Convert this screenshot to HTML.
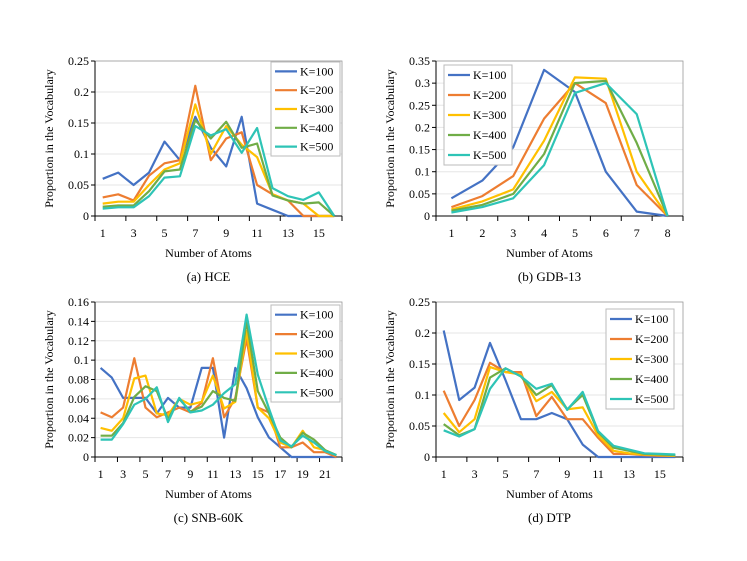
<!DOCTYPE html>
<html><head><meta charset="utf-8"><style>
body{margin:0;background:#fff;}
svg{display:block;}
svg text{font-family:"Liberation Serif","DejaVu Serif",serif;}
</style></head><body>
<svg id="c" width="747" height="561" viewBox="0 0 747 561"></svg>
<script>
const colors=["#4472C4","#ED7D31","#FFC000","#70AD47","#2EC4B6"];
const seriesNames=["K=100","K=200","K=300","K=400","K=500"];
const hceValues=[
[.06,.07,.05,.07,.12,.09,.16,.11,.08,.16,.02,.01,0,0,0,0],
[.03,.035,.025,.065,.085,.09,.21,.09,.125,.135,.05,.035,.025,0,0,0],
[.02,.023,.023,.05,.075,.085,.18,.10,.145,.115,.095,.035,.025,.02,0,0],
[.015,.017,.017,.04,.072,.075,.155,.125,.152,.11,.117,.033,.025,.02,.022,0],
[.012,.014,.014,.032,.062,.064,.145,.13,.14,.102,.142,.045,.032,.026,.038,0]];
const gdbValues=[
[.04,.08,.155,.33,.28,.10,.01,0],
[.02,.045,.09,.22,.30,.255,.07,0],
[.015,.033,.06,.17,.313,.31,.10,0],
[.012,.025,.05,.14,.30,.305,.165,0],
[.008,.02,.04,.115,.278,.30,.23,0]];
const snbValues=[
[.092,.082,.061,.061,.061,.045,.061,.051,.051,.092,.092,.02,.092,.071,.041,.02,.01,0,0,0,0,0],
[.046,.041,.051,.102,.051,.041,.046,.051,.046,.056,.102,.041,.061,.122,.051,.046,.01,.01,.015,.005,.005,0],
[.03,.027,.04,.081,.084,.045,.043,.06,.054,.057,.084,.05,.057,.13,.051,.04,.015,.01,.027,.01,.007,.002],
[.022,.022,.035,.062,.073,.068,.039,.06,.047,.052,.068,.061,.058,.14,.068,.045,.02,.01,.025,.018,.007,.002],
[.018,.018,.034,.054,.06,.072,.036,.061,.046,.048,.054,.066,.075,.147,.085,.05,.017,.011,.022,.015,.006,.002]];
const dtpValues=[
[.204,.092,.112,.184,.124,.061,.061,.071,.061,.02,0,0,0,0,0,0],
[.107,.05,.092,.152,.137,.137,.066,.097,.061,.061,.031,.005,.005,.003,.002,.002],
[.071,.04,.061,.145,.137,.133,.09,.105,.077,.08,.035,.01,.006,.004,.003,.002],
[.053,.035,.045,.128,.143,.13,.1,.116,.077,.1,.04,.015,.01,.005,.004,.003],
[.043,.033,.045,.11,.143,.13,.11,.118,.076,.105,.042,.018,.012,.006,.005,.004]];
const hceTicks=["0","0.05","0.1","0.15","0.2","0.25"];
const gdbTicks=["0","0.05","0.1","0.15","0.2","0.25","0.3","0.35"];
const snbTicks=["0","0.02","0.04","0.06","0.08","0.1","0.12","0.14","0.16"];
const dtpTicks=["0","0.05","0.1","0.15","0.2","0.25"];
const NS="http://www.w3.org/2000/svg";
const svg=document.getElementById('c');
const FF='Liberation Serif, DejaVu Serif, serif';
function mk(tag,attrs,parent,text){const e=document.createElementNS(NS,tag);for(const k in attrs)e.setAttribute(k,attrs[k]);if(text!==undefined){e.textContent=text;e.setAttribute('font-family',FF);}(parent||svg).appendChild(e);return e;}
const panels=[
{id:"hce",vals:hceValues,ticks:hceTicks,l:95,r:342,t:61,b:216,step:2,cap:"(a) HCE",leg:[271,62,69,94]},
{id:"gdb",vals:gdbValues,ticks:gdbTicks,l:436,r:683,t:61,b:216,step:1,cap:"(b) GDB-13",leg:[444,65,68,100]},
{id:"snb",vals:snbValues,ticks:snbTicks,l:95,r:342,t:302,b:457,step:2,cap:"(c) SNB-60K",leg:[271,305,69,97]},
{id:"dtp",vals:dtpValues,ticks:dtpTicks,l:436,r:683,t:302,b:457,step:2,cap:"(d) DTP",leg:[606,309,68,100]}];
panels.forEach(p=>{
  const g=mk('g',{},svg);
  
  
  const n=p.vals[0].length, ymax=parseFloat(p.ticks[p.ticks.length-1]);
  const bw=(p.r-p.l)/n;
  const xs=i=>p.l+bw*(i+0.5);
  const ys=v=>p.b-(v/ymax)*(p.b-p.t);
  p.ticks.forEach((tk,i)=>{const y=ys(parseFloat(tk));
    if(i>0){const gl=mk('line',{x1:p.l,x2:p.r,y1:y,y2:y,stroke:"#e6e6e6","stroke-width":1},g);}
    mk('line',{x1:p.l-4,x2:p.l,y1:y,y2:y,stroke:"#000"},g);
    const tl=mk('text',{x:p.l-6,y:y+4,"text-anchor":"end","font-size":12},g,tk);
  });
  mk('rect',{x:p.l,y:p.t,width:p.r-p.l,height:p.b-p.t,fill:"none",stroke:"#999","stroke-width":0.8},g);
  mk('line',{x1:p.l,x2:p.l,y1:p.t,y2:p.b,stroke:"#000"},g);
  mk('line',{x1:p.l,x2:p.r,y1:p.b,y2:p.b,stroke:"#000"},g);
  for(let i=0;i<=n;i+=p.step){const x=p.l+bw*i;mk('line',{x1:x,x2:x,y1:p.b,y2:p.b+5,stroke:"#000"},g);}
  for(let i=0;i<n;i+=p.step){const xl=mk('text',{x:xs(i),y:p.b+21,"text-anchor":"middle","font-size":12},g,String(i+1));}
  p.vals.forEach((s,k)=>{
    const pts=s.map((v,i)=>xs(i).toFixed(1)+","+ys(v).toFixed(1)).join(" ");
    const pl=mk('polyline',{points:pts,fill:"none",stroke:colors[k],"stroke-width":2.2,"stroke-linejoin":"round"},g);
    
    
  });
  const cx=(p.l+p.r)/2;
  const yt=mk('text',{x:0,y:0,transform:`translate(${p.l-42},${(p.t+p.b)/2}) rotate(-90)`,"text-anchor":"middle","font-size":12},g,"Proportion in the Vocabulary");
  
  const xt=mk('text',{x:cx-10,y:p.b+41,"text-anchor":"middle","font-size":12},g,"Number of Atoms");
  
  const cp=mk('text',{x:cx-10,y:p.b+65,"text-anchor":"middle","font-size":13},g,p.cap);
  
  const [lx,ly,lw,lh]=p.leg;
  const lg=mk('g',{},g);
  
  mk('rect',{x:lx,y:ly,width:lw,height:lh,fill:"#fff",stroke:"#bbb"},lg);
  seriesNames.forEach((nm,k)=>{const y=ly+lh*(k+0.5)/5;
    const e=mk('g',{},lg);
    mk('line',{x1:lx+4,x2:lx+26,y1:y,y2:y,stroke:colors[k],"stroke-width":2.2},e);
    mk('text',{x:lx+29,y:y+4,"font-size":12},e,nm);});
});
</script>
</body></html>
